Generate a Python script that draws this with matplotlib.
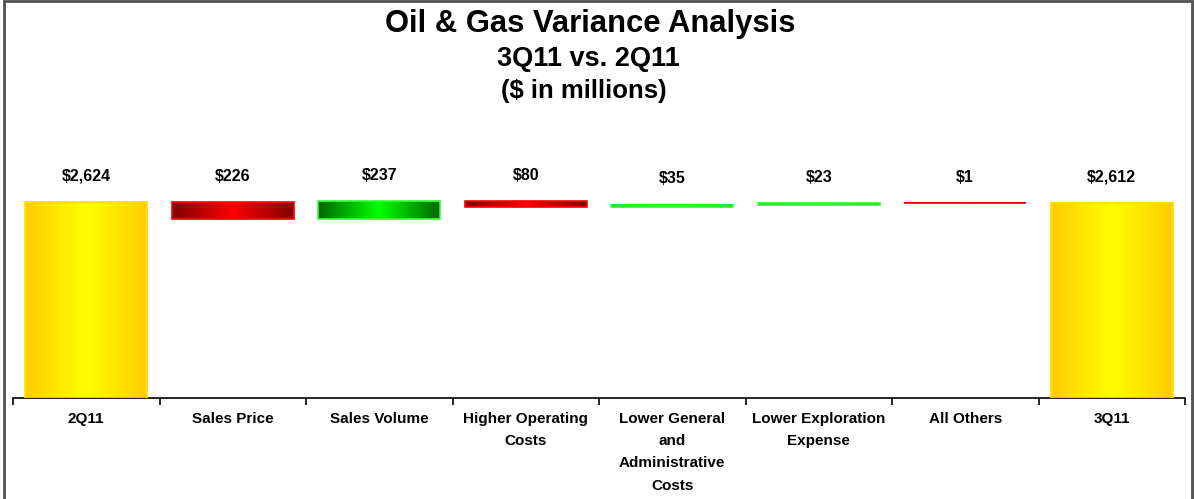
import numpy as np
import matplotlib.pyplot as plt
from matplotlib.colors import LinearSegmentedColormap
from matplotlib.patches import Rectangle

plt.rcParams['font.family'] = ['Liberation Sans', 'DejaVu Sans']
plt.rcParams['font.weight'] = 'bold'

# data
categories = ['2Q11', 'Sales Price', 'Sales Volume', 'Higher Operating\nCosts',
              'Lower General\nand\nAdministrative\nCosts', 'Lower Exploration\nExpense',
              'All Others', '3Q11']
changes = [2624, -226, 237, -80, 35, 23, -1, 2612]
value_labels = ['$2,624', '$226', '$237', '$80', '$35', '$23', '$1', '$2,612']

# waterfall bottoms/heights
bottoms, heights, kinds = [], [], []
running = 0
for i, v in enumerate(changes):
    if i == 0 or i == len(changes) - 1:
        bottoms.append(0)
        heights.append(v)
        kinds.append('total')
        running = v
    else:
        new = running + v
        bottoms.append(min(running, new))
        heights.append(abs(v))
        kinds.append('up' if v > 0 else 'down')
        running = new

gradients = {
    'total': (['#FFCC00', '#FFFF00', '#FFCC00'], '#FFE000'),
    'down': (['#800000', '#FF0000', '#800000'], '#FF0000'),
    'up': (['#006600', '#00FF00', '#006600'], '#33FF33'),
}

fig = plt.figure(figsize=(11.94, 4.99), dpi=100)
ax = fig.add_axes([13 / 1194, 101 / 499, 1172 / 1194, 248 / 499])

x = np.arange(len(categories))
bars = ax.bar(x, heights, bottom=bottoms, width=0.83, color='none', zorder=3)

grad = np.linspace(0, 1, 256).reshape(1, -1)
for bar, kind in zip(bars, kinds):
    cols, edge = gradients[kind]
    cmap = LinearSegmentedColormap.from_list(kind, cols)
    bx, by = bar.get_x(), bar.get_y()
    bw, bh = bar.get_width(), bar.get_height()
    ax.imshow(grad, cmap=cmap, aspect='auto', extent=(bx, bx + bw, by, by + bh),
              zorder=2, interpolation='bilinear')
    bar.set_edgecolor(edge)
    bar.set_linewidth(1.2)

for bar, lab in zip(bars, value_labels):
    top = bar.get_y() + bar.get_height()
    ax.annotate(lab, (bar.get_x() + bar.get_width() / 2, top), xytext=(0, 13),
                textcoords='offset points', ha='center', va='bottom',
                fontsize=11.5, fontweight='bold')

ax.set_xlim(-0.5, len(categories) - 0.5)
ax.set_ylim(0, 3320)
ax.set_xticks(x)
ax.set_xticklabels(categories, fontsize=11, fontweight='bold', linespacing=1.75, va='top')
ax.set_xticks(np.arange(-0.5, len(categories)), minor=True)
ax.tick_params(axis='x', which='major', length=0, pad=10)
ax.tick_params(axis='x', which='minor', length=5, width=1.2, direction='out')
ax.set_yticks([])
for s in ['left', 'right', 'top']:
    ax.spines[s].set_visible(False)
ax.spines['bottom'].set_linewidth(1.2)

fig.text(0.494, 0.952, 'Oil & Gas Variance Analysis', ha='center', va='center',
         fontsize=22.3, fontweight='bold')
fig.text(0.493, 0.882, '3Q11 vs. 2Q11', ha='center', va='center',
         fontsize=19.5, fontweight='bold')
fig.text(0.489, 0.817, '($ in millions)', ha='center', va='center',
         fontsize=18.5, fontweight='bold')

fig.patches.append(Rectangle((4 / 1194, -0.05), 1188 / 1194, 1.047, transform=fig.transFigure,
                             fill=False, edgecolor='#505050', linewidth=2, zorder=10))

fig.savefig('out.png', dpi=100)
